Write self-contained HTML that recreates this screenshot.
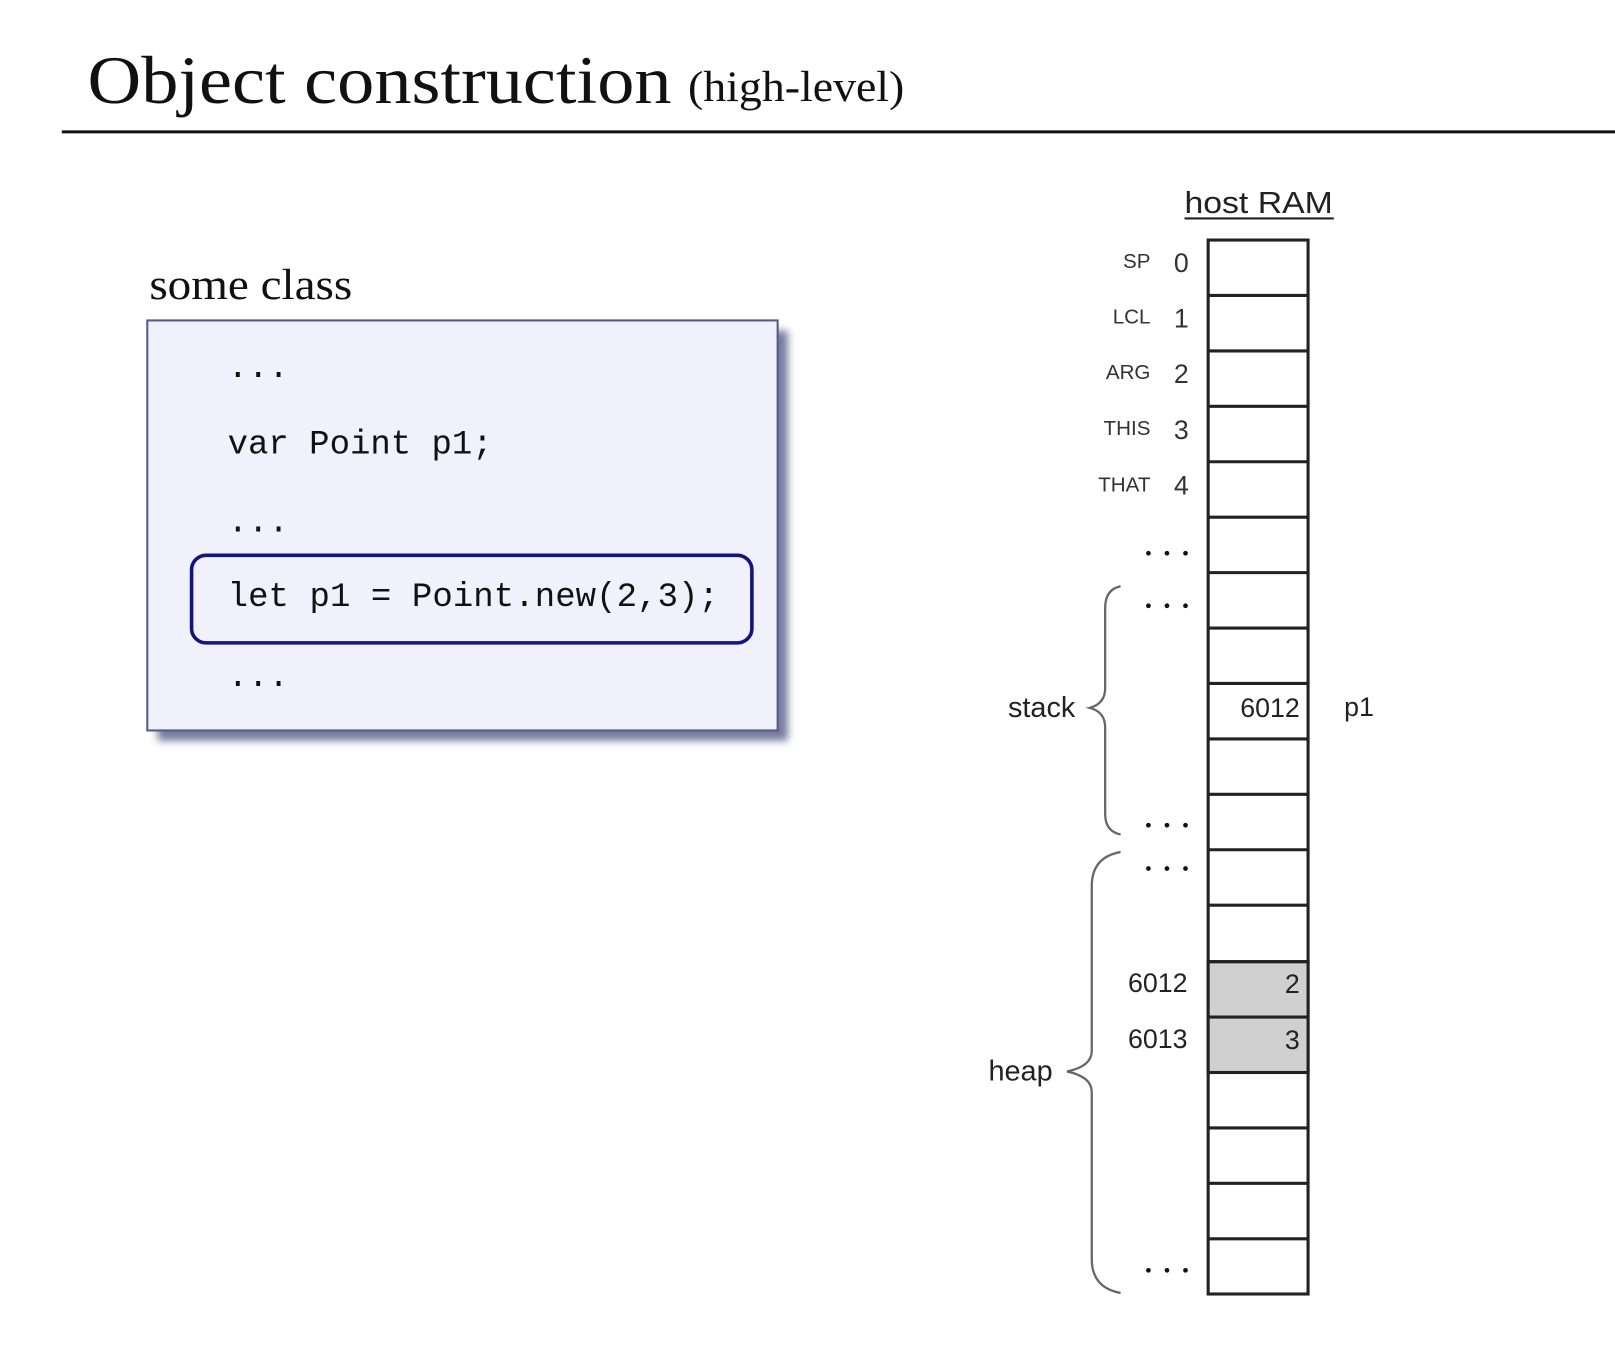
<!DOCTYPE html>
<html><head><meta charset="utf-8"><style>html,body{margin:0;padding:0;background:#fff;overflow:hidden}svg{display:block}</style></head>
<body>
<svg width="1615" height="1362" viewBox="0 0 1568 1322" preserveAspectRatio="none" xmlns="http://www.w3.org/2000/svg">
<defs><filter id="sh" x="-10%" y="-10%" width="130%" height="130%"><feGaussianBlur stdDeviation="4"/></filter></defs>
<text x="85" y="100" font-family="Liberation Serif, serif" font-size="66" fill="#111" textLength="567" lengthAdjust="spacingAndGlyphs">Object construction</text>
<text x="668" y="98" font-family="Liberation Serif, serif" font-size="42" fill="#111" textLength="210" lengthAdjust="spacingAndGlyphs">(high-level)</text>
<line x1="60" y1="128" x2="1568" y2="128" stroke="#111" stroke-width="3"/>
<text x="145" y="290" font-family="Liberation Serif, serif" font-size="42" fill="#111" textLength="197" lengthAdjust="spacingAndGlyphs">some class</text>
<rect x="153" y="321" width="612" height="398" fill="#4a5080" opacity="0.75" filter="url(#sh)"/>
<rect x="143" y="311" width="612" height="398" fill="#f1f1fb" stroke="#555a8a" stroke-width="2"/>
<rect x="186" y="539" width="544" height="85" rx="14" fill="none" stroke="#141480" stroke-width="3.5"/>
<g font-family="Liberation Mono, monospace" font-size="33" fill="#111">
<text x="221" y="366">...</text>
<text x="221" y="440">var Point p1;</text>
<text x="221" y="516">...</text>
<text x="221" y="588" textLength="477">let p1 = Point.new(2,3);</text>
<text x="221" y="666">...</text>
</g>
<text x="1222" y="207" text-anchor="middle" font-family="Liberation Sans, sans-serif" font-size="30" fill="#222" textLength="144" lengthAdjust="spacingAndGlyphs">host RAM</text>
<line x1="1150" y1="212" x2="1295" y2="212" stroke="#222" stroke-width="2"/>
<g stroke="#222" stroke-width="3" fill="#fff">
<rect x="1173" y="233" width="97" height="1023"/>
<rect x="1173" y="933.4" width="97" height="107.6" fill="#d0d0d0"/>
</g>
<g stroke="#222" stroke-width="3">
<line x1="1173" x2="1270" y1="286.8" y2="286.8"/><line x1="1173" x2="1270" y1="340.6" y2="340.6"/><line x1="1173" x2="1270" y1="394.4" y2="394.4"/><line x1="1173" x2="1270" y1="448.2" y2="448.2"/><line x1="1173" x2="1270" y1="502" y2="502"/><line x1="1173" x2="1270" y1="555.8" y2="555.8"/><line x1="1173" x2="1270" y1="609.6" y2="609.6"/><line x1="1173" x2="1270" y1="663.4" y2="663.4"/><line x1="1173" x2="1270" y1="717.2" y2="717.2"/><line x1="1173" x2="1270" y1="771" y2="771"/><line x1="1173" x2="1270" y1="824.8" y2="824.8"/><line x1="1173" x2="1270" y1="878.6" y2="878.6"/><line x1="1173" x2="1270" y1="933.4" y2="933.4"/><line x1="1173" x2="1270" y1="987.2" y2="987.2"/><line x1="1173" x2="1270" y1="1041" y2="1041"/><line x1="1173" x2="1270" y1="1094.8" y2="1094.8"/><line x1="1173" x2="1270" y1="1148.6" y2="1148.6"/><line x1="1173" x2="1270" y1="1202.4" y2="1202.4"/>
</g>
<g font-family="Liberation Sans, sans-serif" font-size="20" fill="#333" text-anchor="end">
<text x="1117" y="260">SP</text><text x="1117" y="314">LCL</text><text x="1117" y="368">ARG</text><text x="1117" y="422">THIS</text><text x="1117" y="477">THAT</text>
</g>
<g font-family="Liberation Sans, sans-serif" font-size="26" fill="#333" text-anchor="middle">
<text x="1147" y="264">0</text><text x="1147" y="318">1</text><text x="1147" y="372">2</text><text x="1147" y="426">3</text><text x="1147" y="480">4</text>
</g>
<g font-family="Liberation Sans, sans-serif" font-size="26" fill="#222">
<text x="1262" y="696" text-anchor="end">6012</text>
<text x="1305" y="695">p1</text>
<text x="1153" y="963" text-anchor="end">6012</text>
<text x="1153" y="1017" text-anchor="end">6013</text>
<text x="1262" y="964" text-anchor="end">2</text>
<text x="1262" y="1018" text-anchor="end">3</text>
<text x="1044" y="696" text-anchor="end" font-size="28">stack</text>
<text x="1022" y="1049" text-anchor="end" font-size="28">heap</text>
</g>
<g fill="#111">
<circle cx="1115" cy="537" r="2.3"/><circle cx="1133" cy="537" r="2.3"/><circle cx="1151" cy="537" r="2.3"/>
<circle cx="1115" cy="588" r="2.3"/><circle cx="1133" cy="588" r="2.3"/><circle cx="1151" cy="588" r="2.3"/>
<circle cx="1115" cy="801" r="2.3"/><circle cx="1133" cy="801" r="2.3"/><circle cx="1151" cy="801" r="2.3"/>
<circle cx="1115" cy="843" r="2.3"/><circle cx="1133" cy="843" r="2.3"/><circle cx="1151" cy="843" r="2.3"/>
<circle cx="1115" cy="1233" r="2.3"/><circle cx="1133" cy="1233" r="2.3"/><circle cx="1151" cy="1233" r="2.3"/>
</g>
<g fill="none" stroke="#666" stroke-width="2.2">
<path d="M1088 569 Q1073 572 1073 590 L1073 668 Q1073 683 1058 687 Q1073 691 1073 706 L1073 790 Q1073 807 1088 810"/>
<path d="M1088 827 Q1060 832 1060 860 L1060 1020 Q1060 1035 1036 1040 Q1060 1045 1060 1060 L1060 1222 Q1060 1250 1088 1255"/>
</g>
</svg>
</body></html>
